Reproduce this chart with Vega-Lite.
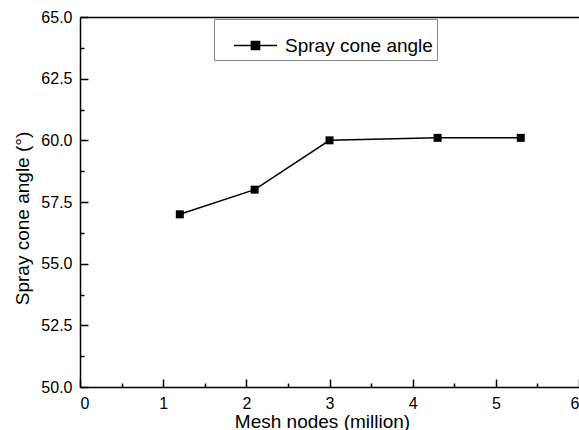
{
  "$schema": "https://vega.github.io/schema/vega-lite/v6.json",
  "width": 499,
  "height": 370,
  "autosize": {"type": "none"},
  "padding": {"left": 80, "top": 17, "right": 0, "bottom": 43},
  "background": "white",
  "config": {
    "view": {"stroke": null},
    "font": "Liberation Sans",
    "axis": {"grid": false, "domainColor": "black", "tickColor": "black", "labelColor": "black", "titleColor": "black", "labelFont": "Liberation Sans", "titleFont": "Liberation Sans", "titleFontWeight": "normal", "domainWidth": 1.5, "tickWidth": 1.5}
  },
  "data": {"values": [
    {"nodes": 1.2, "angle": 57.0, "series": "Spray cone angle"},
    {"nodes": 2.1, "angle": 58.0, "series": "Spray cone angle"},
    {"nodes": 3.0, "angle": 60.0, "series": "Spray cone angle"},
    {"nodes": 4.3, "angle": 60.1, "series": "Spray cone angle"},
    {"nodes": 5.3, "angle": 60.1, "series": "Spray cone angle"}
  ]},
  "resolve": {"axis": {"x": "independent", "y": "independent"}},
  "layer": [
    {
      "mark": {"type": "line", "color": "black", "strokeWidth": 1.5, "opacity": 0},
      "encoding": {
        "x": {"field": "nodes", "type": "quantitative", "scale": {"domain": [0, 6], "nice": false, "zero": false},
          "axis": {"orient": "bottom", "values": [0.5, 1.5, 2.5, 3.5, 4.5, 5.5], "labels": false, "domain": false, "tickSize": -4, "title": null}},
        "y": {"field": "angle", "type": "quantitative", "scale": {"domain": [50, 65], "nice": false, "zero": false},
          "axis": {"orient": "left", "values": [51.25, 53.75, 56.25, 58.75, 61.25, 63.75], "labels": false, "domain": false, "tickSize": -4, "title": null}}
      }
    },
    {
      "mark": {"type": "line", "color": "black", "strokeWidth": 1.5, "opacity": 0},
      "encoding": {
        "x": {"field": "nodes", "type": "quantitative",
          "axis": {"orient": "top", "values": [], "labels": false, "ticks": false, "domain": true, "title": null}},
        "y": {"field": "angle", "type": "quantitative",
          "axis": null}
      }
    },
    {
      "mark": {"type": "line", "color": "black", "strokeWidth": 1.5, "point": {"shape": "square", "size": 64, "filled": true, "color": "black", "opacity": 1}},
      "encoding": {
        "x": {"field": "nodes", "type": "quantitative",
          "axis": {"orient": "bottom", "values": [0, 1, 2, 3, 4, 5, 6], "format": "d", "tickSize": -8, "labelPadding": 16, "labelFontSize": 16, "title": "Mesh nodes (million)", "titleFontSize": 19, "titlePadding": 1, "titleX": 242}},
        "y": {"field": "angle", "type": "quantitative",
          "axis": {"orient": "left", "values": [50, 52.5, 55, 57.5, 60, 62.5, 65], "format": ".1f", "tickSize": -8, "labelPadding": 16, "labelFontSize": 16, "title": "Spray cone angle (°)", "titleFontSize": 19, "titlePadding": 8, "titleY": 201}},
        "color": {"field": "series", "type": "nominal", "scale": {"range": ["black"]},
          "legend": {"title": null, "orient": "none", "legendX": 134, "legendY": 2, "strokeColor": "#888888", "padding": 4, "labelFontSize": 19, "labelFont": "Liberation Sans", "labelColor": "black",
            "symbolType": "M-1,0H1M-0.19,-0.19H0.19V0.19H-0.19Z", "symbolSize": 1849, "symbolStrokeWidth": 1.5, "symbolFillColor": "black", "symbolStrokeColor": "black", "symbolOpacity": 1, "symbolOffset": 15, "labelOffset": 7}}
      }
    }
  ]
}
